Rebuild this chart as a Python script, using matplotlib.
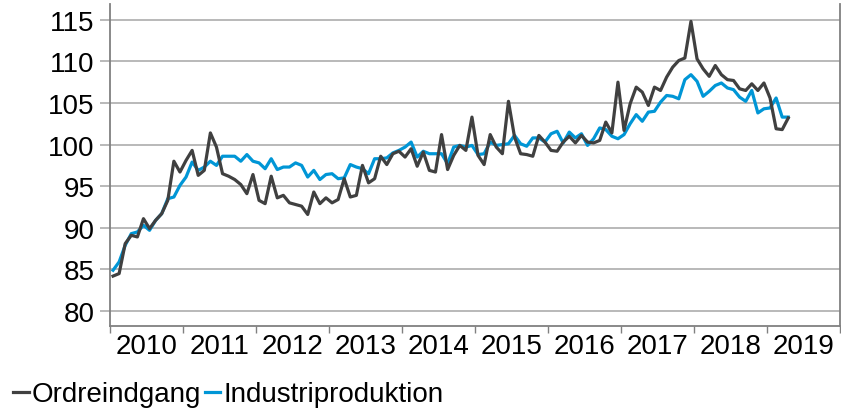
import numpy as np
import matplotlib.pyplot as plt
from matplotlib.ticker import FixedLocator, NullFormatter

plt.rcParams['font.family'] = ['Liberation Sans', 'DejaVu Sans']

years = ['2010', '2011', '2012', '2013', '2014', '2015', '2016', '2017', '2018', '2019']

# monthly index, jan 2010 - apr 2019
ordreindgang = [
    84.2, 84.5, 88.1, 89.1, 88.9, 91.1, 89.9, 90.9, 91.7, 93.3, 98.0, 96.7,
    98.1, 99.3, 96.3, 96.9, 101.4, 99.7, 96.5, 96.2, 95.8, 95.2, 94.1, 96.4,
    93.3, 92.9, 96.2, 93.6, 93.9, 93.0, 92.8, 92.6, 91.6, 94.3, 92.9, 93.6,
    93.0, 93.4, 95.9, 93.7, 93.9, 97.5, 95.4, 95.9, 98.6, 97.6, 98.9, 99.2,
    98.5, 99.5, 97.4, 99.1, 96.9, 96.7, 101.2, 97.0, 98.7, 99.9, 99.3, 103.3,
    98.7, 97.6, 101.2, 99.7, 98.9, 105.2, 100.9, 98.9, 98.8, 98.6, 101.1, 100.3,
    99.3, 99.2, 100.3, 101.0, 100.2, 101.1, 100.3, 100.2, 100.5, 102.7, 101.4, 107.5,
    101.7, 104.9, 106.9, 106.3, 104.7, 106.9, 106.5, 108.1, 109.3, 110.1, 110.4, 114.8,
    110.3, 109.1, 108.2, 109.5, 108.4, 107.8, 107.7, 106.7, 106.5, 107.3, 106.5, 107.4,
    105.6, 101.9, 101.8, 103.2,
]
industriproduktion = [
    84.9, 85.9, 87.9, 89.3, 89.5, 90.3, 89.7, 90.9, 91.7, 93.5, 93.7, 95.1,
    96.1, 97.9, 96.9, 97.3, 98.0, 97.5, 98.6, 98.6, 98.6, 98.0, 98.8, 98.0,
    97.8, 97.1, 98.3, 97.0, 97.3, 97.3, 97.8, 97.5, 96.1, 96.9, 95.8, 96.4,
    96.5, 95.9, 96.0, 97.6, 97.3, 97.1, 96.5, 98.3, 98.3, 98.4, 99.0, 99.3,
    99.7, 100.3, 98.5, 99.2, 98.9, 98.9, 98.9, 97.7, 99.7, 99.9, 99.7, 99.9,
    98.8, 98.9, 100.3, 99.9, 100.0, 100.1, 101.1, 100.1, 99.8, 100.8, 100.8, 100.3,
    101.3, 101.6, 100.2, 101.5, 100.8, 101.3, 99.9, 100.7, 102.0, 101.8, 101.0, 100.7,
    101.2, 102.5, 103.6, 102.8, 103.9, 104.0, 105.1, 105.9, 105.8, 105.5, 107.8, 108.4,
    107.6, 105.8, 106.4, 107.1, 107.4, 106.8, 106.6, 105.7, 105.2, 106.5, 103.8, 104.3,
    104.4, 105.6, 103.3, 103.3,
]

x = np.arange(len(ordreindgang)) + 0.5
fs = 20

fig = plt.figure(figsize=(8.41, 4.10), dpi=100)
ax = fig.add_axes([0.1308, 0.2024, 0.8680, 0.7856])

for y in range(80, 116, 5):
    ax.axhline(y, color='#b3b3b3', lw=1.3, zorder=1)

ax.plot(x, ordreindgang, color='#404040', lw=2.3, label='Ordreindgang', zorder=3)
ax.plot(x, industriproduktion, color='#0096d6', lw=2.3, label='Industriproduktion', zorder=2)

ax.set_xlim(0, 120)
ax.set_ylim(78.2, 116.9)
ax.set_yticks(range(80, 116, 5))
ax.xaxis.set_major_locator(FixedLocator(np.arange(0, 121, 12)))
ax.xaxis.set_major_formatter(NullFormatter())
ax.xaxis.set_minor_locator(FixedLocator(np.arange(6, 120, 12)))
ax.set_xticklabels(years, minor=True)
ax.tick_params(axis='x', which='major', direction='out', length=5, width=1, color='#808080')
ax.tick_params(axis='x', which='minor', length=0, pad=5, labelsize=fs)
ax.tick_params(axis='y', direction='out', length=7, width=1.3, color='#b3b3b3', pad=4, labelsize=fs)

ax.spines['top'].set_visible(False)
for s in ['left', 'bottom', 'right']:
    ax.spines[s].set_color('#808080')
    ax.spines[s].set_linewidth(1.3)

fig.legend(loc='center left', bbox_to_anchor=(0.006, 0.036), ncol=2, frameon=False,
           fontsize=fs, handlelength=0.55, handletextpad=0.1, columnspacing=0.15,
           borderaxespad=0, borderpad=0.3)

fig.savefig('out.png', dpi=100)
